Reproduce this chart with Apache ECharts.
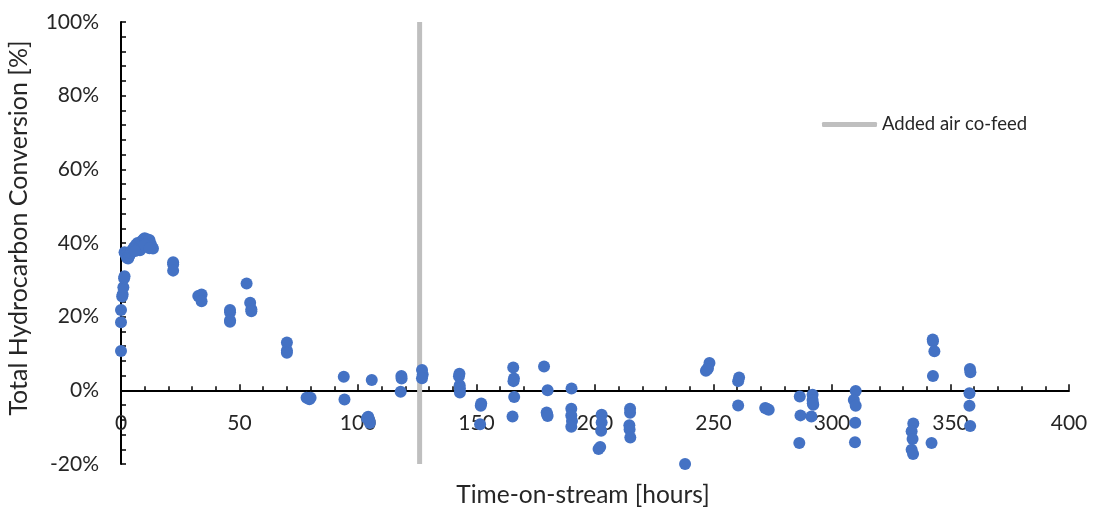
<!DOCTYPE html>
<html>
<head>
<meta charset="utf-8">
<title>Total Hydrocarbon Conversion vs Time-on-stream</title>
<script src="https://cdn.jsdelivr.net/npm/echarts@6/dist/echarts.min.js"></script>
<style>
  html, body { margin: 0; padding: 0; background: #ffffff; }
  #chart { width: 1093px; height: 509px; }
</style>
</head>
<body>
<div id="chart"></div>
<script>
// Time-on-stream of each measurement [hours]
const timeHours = [
  0, 0, 0, 0.5, 0.7, 1, 1.3, 1.5,
  1.5, 2, 2.5, 3, 3.5, 4, 4.5, 5, 5.5, 6, 6.5, 7, 7.5, 8, 8.5, 9, 9.5, 10,
  10.5, 11, 11.5, 12, 12.5, 13, 13.5, 8, 6, 10, 12,
  22, 22, 22,
  32.6, 34, 34,
  46, 46, 46, 46,
  53,
  54.5, 55, 55,
  70, 70, 70,
  78.3, 79.5, 80,
  94, 94.3,
  104.3, 104.8, 105, 103.8,
  105.8,
  118.3, 118.4, 118,
  127, 127.3, 127,
  142.8, 142.6, 142.9, 143, 143,
  152, 151.8, 151.5,
  165.5, 165.8, 165.6, 165.9, 165.2,
  178.5, 180, 179.6, 179.8, 180,
  190.1, 190, 190, 190.3, 190,
  202.8, 202.8, 202.6, 201.5, 202.2,
  214.8, 214.8, 214.5, 214.6, 214.9,
  238,
  246.8, 247.6, 248.3, 247.5,
  260.4, 260.8, 260.4,
  271.8, 273.3, 272.5,
  286.4, 286.7, 286.2,
  291.8, 291.8, 292.1, 291.9, 291.3,
  310, 309.2, 310, 309.8, 309.7,
  334.3, 333.6, 334, 333.6, 334.2,
  342.5, 342.6, 343.2, 342.6, 342,
  358.2, 358.4, 358, 358, 358.3
];

// Total hydrocarbon conversion of each measurement [%]
const conversionPct = [
  10.7, 18.5, 21.8, 25.5, 26, 28, 30.4, 31,
  37.5, 36.8, 36, 35.8, 36.5, 37.2, 37.8, 38.3, 38.8, 39.2, 39.6, 40, 38.5, 39.8, 40.3, 40.6, 41, 41.3,
  40.8, 41, 40.5, 40.8, 39.8, 39, 38.5, 38, 37.8, 39.5, 38.6,
  34.8, 34.2, 32.5,
  25.6, 26, 24.2,
  21.8, 21.2, 18.6, 19,
  29,
  23.8, 22, 21.5,
  13, 10.8, 10.2,
  -2, -2.4, -2,
  3.7, -2.5,
  -7.2, -8.2, -8.9, -7.6,
  2.8,
  3.9, 3.2, -0.4,
  5.5, 4.3, 3.3,
  4.5, 3.8, 1.4, 0.5, -0.6,
  -3.6, -4.2, -9.2,
  6.2, 3.2, 2.5, -1.8, -7.1,
  6.5, 0, -6, -6.5, -7,
  0.5, -5, -6.8, -8.3, -9.9,
  -6.6, -8.7, -11, -15.9, -15.4,
  -5, -6.1, -9.5, -10.6, -12.8,
  -20,
  5.3, 6, 7.4, 5.8,
  2.5, 3.5, -4.1,
  -4.8, -5.3, -5,
  -1.7, -6.8, -14.3,
  -1.2, -2.6, -3.9, -3.5, -7.1,
  -0.2, -2.6, -4.2, -8.8, -14.1,
  -9, -11.1, -13.2, -16.1, -17.3,
  13.8, 13.3, 10.6, 3.9, -14.3,
  5.8, 4.9, -0.8, -4.2, -9.7
];

// Moment the air co-feed was switched on [hours]
const airCoFeedHour = [126];
const airCoFeedLabel = ['Added air co-feed'];

// Axis ranges and tick steps
const xRange = [0, 400, 50];
const yRange = [-20, 100, 20];

const FONT = 'Lato, "Open Sans", sans-serif';
const TEXT = '#262626';

const points = timeHours.map((t, i) => [t, conversionPct[i]]);

const chart = echarts.init(document.getElementById('chart'), null, { renderer: 'canvas' });

chart.setOption({
  animation: false,
  backgroundColor: '#ffffff',
  grid: { left: 121, right: 24, top: 22, bottom: 45, containLabel: false, outerBoundsMode: 'none' },
  legend: {
    data: [{ name: airCoFeedLabel[0], icon: 'roundRect' }],
    left: 817,
    top: 110,
    itemWidth: 55,
    itemHeight: 5,
    itemStyle: { color: '#BFBFBF' },
    textStyle: { fontFamily: FONT, fontSize: 18.5, color: TEXT }
  },
  xAxis: {
    type: 'value',
    min: xRange[0], max: xRange[1], interval: xRange[2],
    name: 'Time-on-stream [hours]',
    nameLocation: 'middle',
    nameGap: 19,
    nameTextStyle: { fontFamily: FONT, fontSize: 24.5, color: TEXT, padding: [0, 24, 0, 0] },
    axisLine: { onZero: true, lineStyle: { color: '#000000', width: 2 } },
    axisTick: { inside: true, length: 6, lineStyle: { color: '#000000', width: 1.5 } },
    minorTick: { show: true, splitNumber: 5, length: 4, lineStyle: { color: '#000000', width: 1.5 } },
    axisLabel: { margin: -51, fontFamily: FONT, fontSize: 21, color: TEXT },
    splitLine: { show: false }
  },
  yAxis: {
    type: 'value',
    min: yRange[0], max: yRange[1], interval: yRange[2],
    name: 'Total Hydrocarbon Conversion [%]',
    nameLocation: 'middle',
    nameGap: 90,
    nameTextStyle: { fontFamily: FONT, fontSize: 25, color: TEXT, padding: [0, 0, 0, 30] },
    axisLine: { show: true, lineStyle: { color: '#000000', width: 2 } },
    axisTick: { inside: true, length: 5, lineStyle: { color: '#000000', width: 1.5 } },
    minorTick: { show: true, splitNumber: 5, length: 5, lineStyle: { color: '#000000', width: 1.5 } },
    axisLabel: { margin: 22, fontFamily: FONT, fontSize: 21, color: TEXT, formatter: '{value}%' },
    splitLine: { show: false }
  },
  series: [
    {
      name: airCoFeedLabel[0],
      type: 'line',
      symbol: 'none',
      data: [[airCoFeedHour[0], yRange[0]], [airCoFeedHour[0], yRange[1]]],
      lineStyle: { color: '#BFBFBF', width: 5, cap: 'butt' },
      itemStyle: { color: '#BFBFBF' },
      z: 1
    },
    {
      name: 'Conversion',
      type: 'scatter',
      symbol: 'circle',
      symbolSize: 12,
      data: points,
      itemStyle: { color: '#4472C4', opacity: 1 },
      z: 3
    }
  ]
});
</script>
</body>
</html>
